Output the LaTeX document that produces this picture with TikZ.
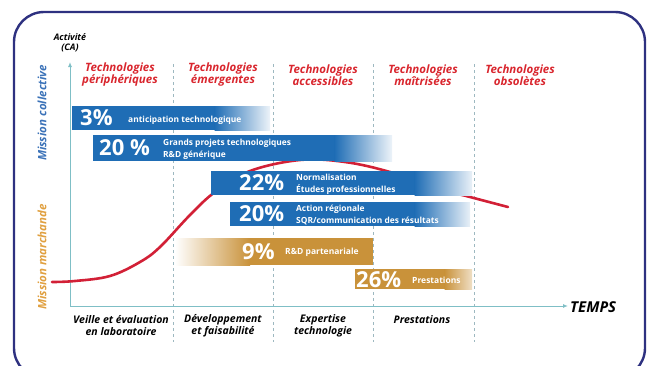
\documentclass[tikz,border=0pt]{standalone}
\usepackage{fontspec}
\setmainfont{Open Sans}
\usetikzlibrary{arrows.meta}
\definecolor{navy}{HTML}{2E3180}
\definecolor{barblue}{HTML}{1F6DB5}
\definecolor{bargold}{HTML}{C9923A}
\definecolor{hred}{HTML}{D9262E}
\definecolor{axiscol}{HTML}{7FBFC6}
\definecolor{dashcol}{HTML}{9DB8C0}
\definecolor{mcol}{HTML}{3B72B8}
\definecolor{mmar}{HTML}{E0A040}
\definecolor{curvecol}{HTML}{D22036}
\tikzset{
  hdr/.style={text=hred,font=\fontsize{11.5}{12}\selectfont\bfseries\itshape,align=center,inner sep=0pt},
  foot/.style={text=black,font=\fontsize{10.5}{12}\selectfont\bfseries\itshape,align=center,inner sep=0pt},
  pct/.style={text=white,font=\fontsize{22}{22}\selectfont\bfseries,anchor=west,inner sep=0pt},
  btxt/.style={text=white,font=\fontsize{8.4}{11}\selectfont\bfseries,anchor=base west,inner sep=0pt},
  btxtsm/.style={text=white,font=\fontsize{8.5}{10}\selectfont\bfseries,anchor=west,inner sep=0pt},
  sep/.style={draw=dashcol,line width=0.9pt,dash pattern=on 3pt off 3pt},
  ax/.style={draw=axiscol,line width=1pt,-{Latex[length=5pt,width=4pt]}},
  mis/.style={font=\fontsize{11.5}{12}\selectfont\bfseries\itshape,rotate=90,inner sep=0pt},
}
\begin{document}
\begin{tikzpicture}[x=1pt,y=-1pt]
\useasboundingbox (0,0) rectangle (651,365);
\clip (0,0) rectangle (651,365);
% frame
\draw[navy,line width=2.4pt,rounded corners=30pt] (14,12) rectangle (645,378);
% separators
\foreach \xx/\nm in {173/a,273/b,373/c,474/d}{
  \coordinate (s\nm t) at (\xx,64);
  \coordinate (s\nm b) at (\xx,342);
  \draw[sep] (s\nm t) -- (s\nm b);
}
% axes
\coordinate (O) at (70,306);
\coordinate (Ytop) at (70,62);
\coordinate (Xend) at (568,306);
\draw[ax] (O) -- (Ytop);
\draw[ax] (O) -- (Xend);
% curve
\draw[curvecol,line width=2.6pt,line cap=round] plot[smooth,tension=0.6] coordinates {
 (52,282) (75,281) (110,276) (140,262) (160,247) (190,215) (215,192) (250,171) (300,160) (345,162) (390,172) (440,189) (470,197) (508,207)};
% blue bars
\fill[barblue] (72,106) rectangle (215,130);
\shade[left color=barblue,right color=barblue!8] (214.5,106) rectangle (270,130);
\fill[barblue] (93,135) rectangle (335,161);
\shade[left color=barblue,right color=barblue!8] (334.5,135) rectangle (392,161);
\fill[barblue] (211,171) rectangle (415,195);
\shade[left color=barblue,right color=barblue!10] (414.5,171) rectangle (472,195);
\fill[barblue] (230,202) rectangle (415,226);
\shade[left color=barblue,right color=barblue!10] (414.5,202) rectangle (470,226);
% gold bars
\shade[left color=white,right color=bargold] (175,238) rectangle (250,265);
\fill[bargold] (249.5,238) rectangle (373,265);
\fill[bargold] (355,269) rectangle (445,289);
\shade[left color=bargold,right color=bargold!30] (444.5,269) rectangle (472,289);
% bar texts
\node[pct] (p1) at (80,118) {3\%};
\node[btxt] (t1) at (128,122) {anticipation technologique};
\node[pct] (p2) at (99,148) {20 \%};
\node[btxt] (t2a) at (163,145.5) {Grands projets technologiques};
\node[btxt] (t2b) at (163,157.5) {R\&D générique};
\node[pct] (p3) at (239,183) {22\%};
\node[btxt] (t3a) at (296,180) {Normalisation};
\node[btxt] (t3b) at (296,192.5) {Études professionnelles};
\node[pct] (p4) at (239,214) {20\%};
\node[btxt] (t4a) at (296,211) {Action régionale};
\node[btxt] (t4b) at (296,223.5) {SQR/communication des résultats};
\node[pct] (p5) at (242,252) {9\%};
\node[btxtsm] (t5) at (285,252) {R\&D partenariale};
\node[pct] (p6) at (356,280) {26\%};
\node[btxtsm] (t6) at (412,280) {Prestations};
% headers
\node[hdr] (h1) at (120,75) {Technologies\\périphériques};
\node[hdr] (h2) at (223,75) {Technologies\\émergentes};
\node[hdr] (h3) at (323,75) {Technologies\\accessibles};
\node[hdr] (h4) at (423,75) {Technologies\\maîtrisées};
\node[hdr] (h5) at (520,75) {Technologies\\obsolètes};
% activity label
\node[font=\fontsize{9}{10}\selectfont\bfseries\itshape,align=center,inner sep=0pt] (act) at (70,43) {Activité\\(CA)};
% mission labels
\node[mis,text=mcol] (mc) at (42,113) {Mission collective};
\node[mis,text=mmar] (mm) at (42,257) {Mission marchande};
% footer labels
\node[foot] (f1) at (121,326) {Veille et évaluation\\en laboratoire};
\node[foot] (f2) at (223,326) {Développement\\et faisabilité};
\node[foot] (f3) at (323,326) {Expertise\\technologie};
\node[foot] (f4) at (422,320) {Prestations};
\node[font=\fontsize{15}{15}\selectfont\bfseries\itshape,anchor=west,inner sep=0pt] (temps) at (570,307) {TEMPS};
\end{tikzpicture}
\end{document}
